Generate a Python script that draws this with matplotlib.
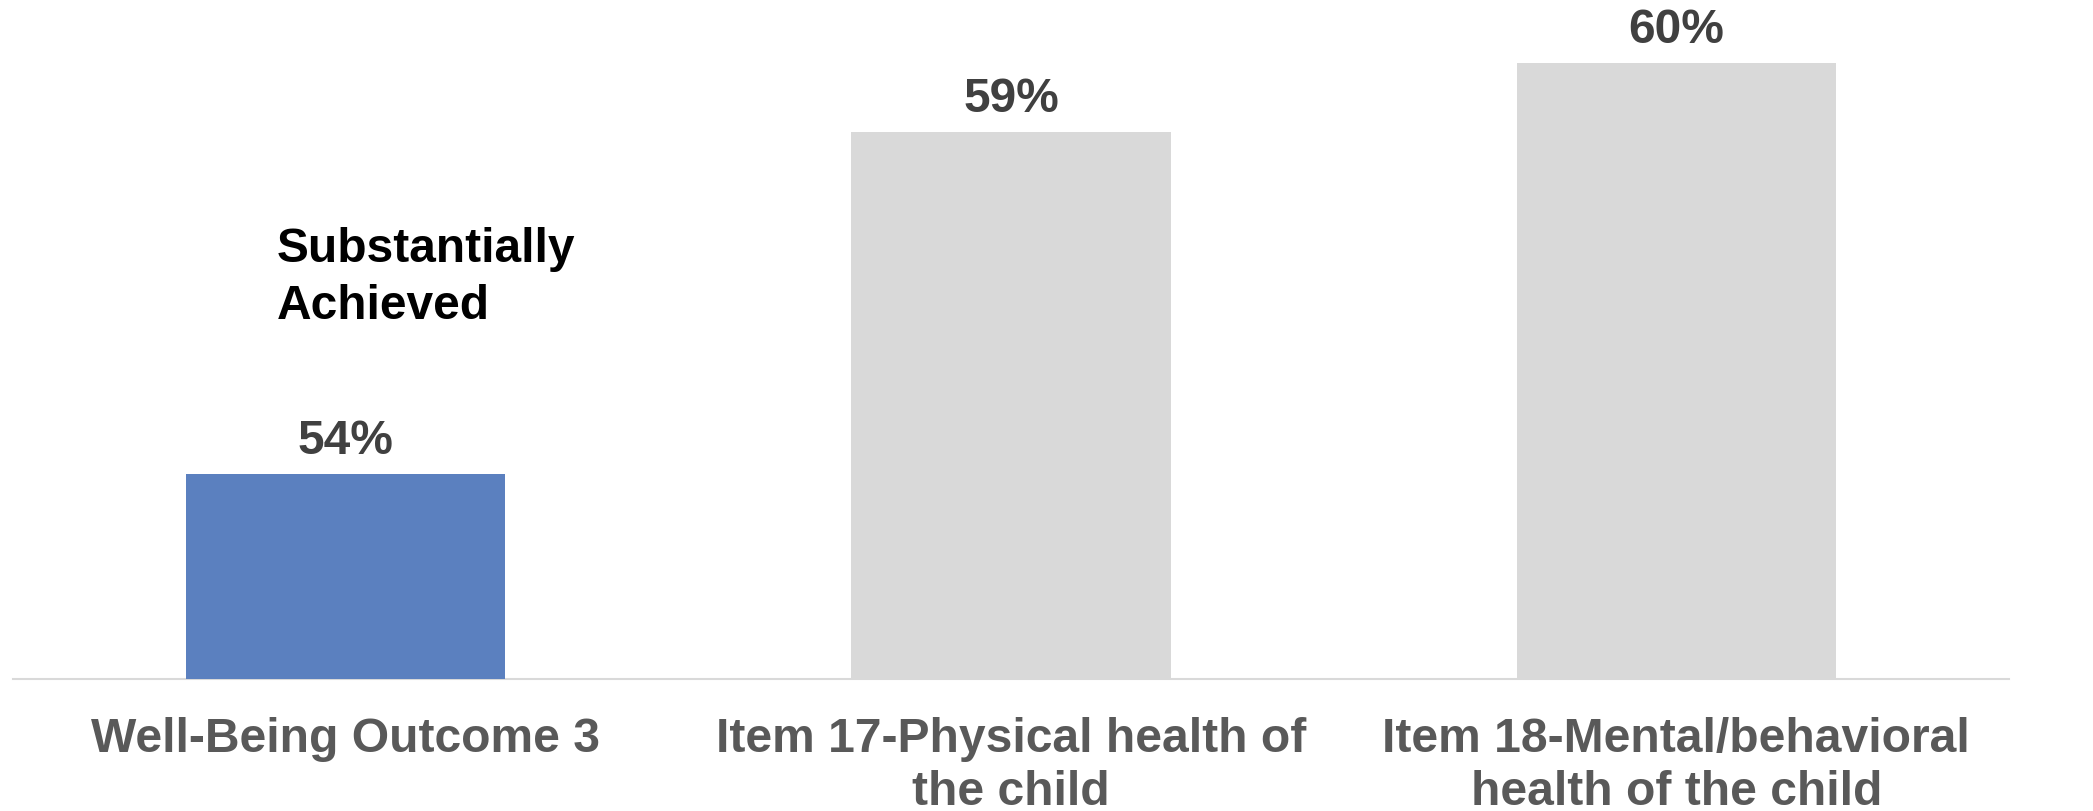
import matplotlib
matplotlib.use("Agg")
import matplotlib.pyplot as plt
from matplotlib.transforms import blended_transform_factory

categories = ["Well-Being Outcome 3",
              "Item 17-Physical health of\nthe child",
              "Item 18-Mental/behavioral\nhealth of the child"]
values = [54, 59, 60]
value_labels = ["54%", "59%", "60%"]
bar_colors = ["#5B80BF", "#D9D9D9", "#D9D9D9"]
annotation = "Substantially\nAchieved"

plt.rcParams['font.family'] = ['Liberation Sans', 'DejaVu Sans']

W, H = 2093, 811
fig = plt.figure(figsize=(W / 100, H / 100), dpi=100)
ax_left, ax_right = 13 / W, 2009 / W
ax_bottom = (H - 679) / H
ax = fig.add_axes([ax_left, ax_bottom, ax_right - ax_left, 1 - ax_bottom])

ymin = 51.0
ymax = ymin + 679 / 68.4
x = list(range(len(categories)))
ax.bar(x, [v - ymin for v in values], bottom=ymin, width=0.48,
       color=bar_colors, zorder=2)
ax.set_xlim(-0.5, len(categories) - 0.5)
ax.set_ylim(ymin, ymax)

for s in ["top", "right", "left"]:
    ax.spines[s].set_visible(False)
ax.spines["bottom"].set_color("#D9D9D9")
ax.spines["bottom"].set_linewidth(1.5)
ax.spines["bottom"].set_zorder(1)
ax.set_yticks([])
ax.set_xticks([])

for xi, v, lab in zip(x, values, value_labels):
    ax.annotate(lab, (xi, v), xytext=(0, 14.5), textcoords="offset points",
                ha="center", va="baseline", fontsize=34.5, fontweight="bold",
                color="#404040")

tr = blended_transform_factory(ax.transData, fig.transFigure)
for xi, cat in zip(x, categories):
    ax.text(xi, 1 - 717 / H, cat, transform=tr, ha="center", va="top",
            fontsize=34.6, fontweight="bold", color="#595959",
            linespacing=1.22, clip_on=False)

fig.text(277 / W, 1 - 227 / H, annotation, ha="left", va="top",
         fontsize=34.5, fontweight="bold", color="#000000", linespacing=1.33)

fig.savefig("out.png", dpi=100, facecolor="white")
